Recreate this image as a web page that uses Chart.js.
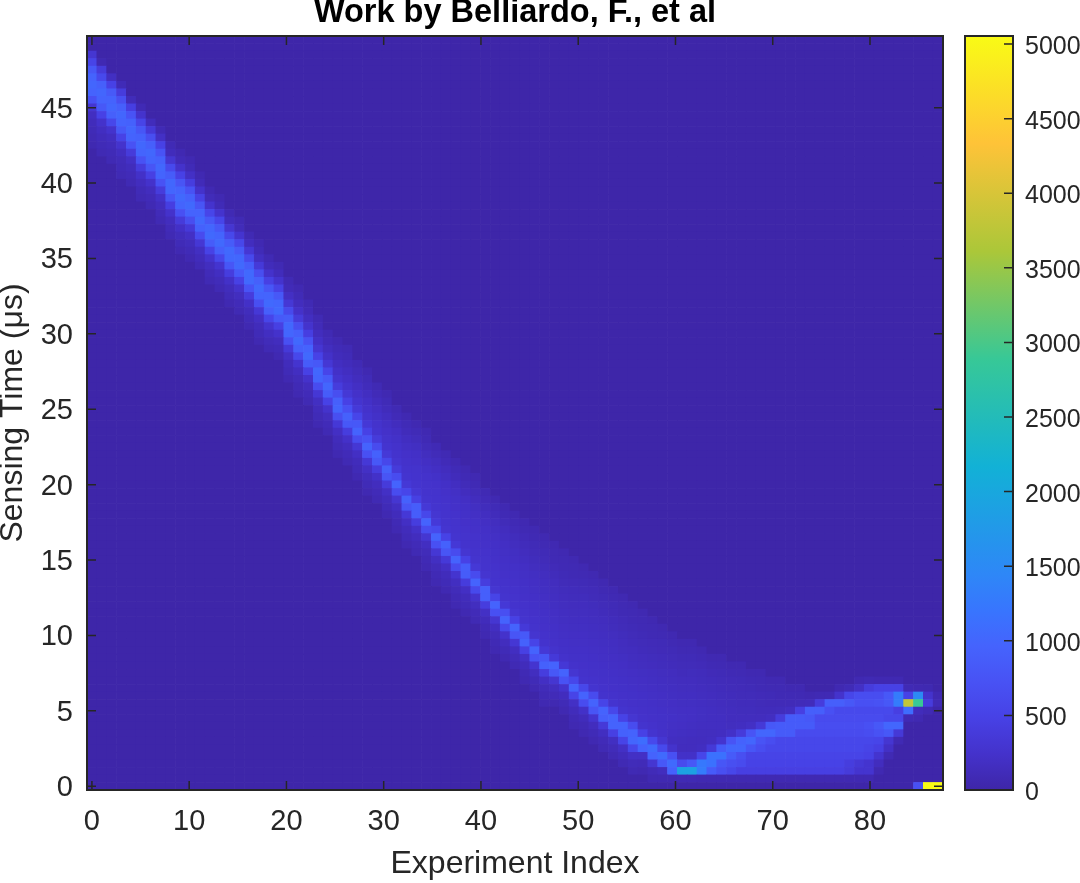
<!DOCTYPE html>
<html>
<head>
<meta charset="utf-8">
<script src="https://cdn.jsdelivr.net/npm/chart.js@4"></script>
<style>
    body { margin: 0; background: #fff; }
    canvas { position: absolute; left: 0; top: 0; }
</style>
</head>
<body>
<canvas id="heat" width="1080" height="883"></canvas>
<canvas id="bar" width="1080" height="883"></canvas>
<script>
const xTicks = [0, 10, 20, 30, 40, 50, 60, 70, 80];
const yTicks = [0, 5, 10, 15, 20, 25, 30, 35, 40, 45];
const barTicks = [0, 500, 1000, 1500, 2000, 2500, 3000, 3500, 4000, 4500, 5000];
const colorMax = 5054;
const background = 10;

/* first listed row of each experiment, rows count up from 0 in 0.5 us steps */
const topRows = [
    97, 96, 94, 93, 91, 90, 88, 87, 85, 84, 83, 81, 79, 78, 76, 75, 73, 72, 70, 69,
    67, 66, 64, 62, 60, 59, 58, 56, 55, 53, 52, 50, 49, 48, 47, 45, 44, 43, 42, 41,
    39, 38, 37, 36, 35, 34, 33, 32, 31, 30, 29, 28, 27, 26, 25, 24, 23, 22, 21, 20,
    19, 19, 18, 17, 17, 16, 16, 15, 15, 14, 14, 13, 13, 12, 12, 12, 13, 13, 14, 14,
    14, 14, 14, 13, 13, 13, 12
];

/* counts per experiment, read downward from its top row */
const columnValues = [
    [300,520,800,960,1000,960,700,300,170,130,100,80,60],
    [70,380,600,920,1000,960,800,480,240,170,130,100,80],
    [180,480,840,960,1000,920,560,260,170,130,100,80],
    [100,400,680,900,1000,960,800,500,260,170,120,100,80],
    [120,440,740,940,1000,960,720,380,200,140,110,80],
    [90,250,520,780,940,1020,980,720,400,220,150,100,80],
    [130,360,660,900,1020,980,760,460,240,150,110,80],
    [90,200,480,740,940,1020,980,720,400,220,150,110,80],
    [90,130,300,600,860,1020,1000,760,440,240,150,110,80],
    [70,110,240,480,760,960,1040,980,700,380,210,140,100,70],
    [70,100,200,420,720,940,1040,960,660,360,200,140,100,70],
    [70,110,240,480,760,960,1040,940,620,320,180,130,90],
    [70,120,260,540,800,1000,1040,860,500,260,160,110,80],
    [70,100,260,540,800,980,1040,900,560,280,170,120,80],
    [80,140,300,580,860,1040,1020,780,420,220,140,100,70],
    [80,120,280,560,840,1020,1040,820,480,250,160,110,80],
    [80,150,320,600,880,1040,1040,740,400,210,140,100,70],
    [70,100,180,360,660,920,1040,980,680,340,190,130,100,70],
    [80,130,240,460,780,980,1040,900,540,270,170,120,80],
    [80,130,260,500,800,1000,1040,820,460,240,150,100,70],
    [80,110,190,330,600,860,1020,1000,700,360,200,130,100,70],
    [70,100,150,230,380,660,920,1040,920,580,280,170,120,90,70],
    [80,110,170,260,440,720,960,1040,860,480,240,150,110,80],
    [80,110,150,210,310,500,800,1020,980,640,320,180,130,100,70],
    [80,110,160,220,320,540,840,1000,860,500,250,160,110,80],
    [70,100,130,170,220,280,400,660,920,980,680,340,190,130,100,70],
    [80,100,130,170,210,260,330,480,700,940,800,420,230,150,110,80],
    [90,120,150,190,230,280,360,540,800,960,640,320,190,130,100,70],
    [70,100,130,170,210,240,280,340,480,720,960,700,340,200,140,100,70],
    [80,110,150,190,220,250,280,380,620,940,800,420,220,150,110,80],
    [70,100,130,170,200,230,250,280,350,560,920,760,380,200,140,100,70],
    [80,110,150,190,220,240,260,290,380,640,960,640,300,180,130,90,70],
    [70,100,130,170,200,230,240,260,280,340,540,940,760,340,190,130,100,70],
    [70,100,140,180,210,230,250,260,280,320,460,880,880,420,220,150,110,80],
    [70,90,120,160,190,220,240,250,260,280,340,560,960,640,300,170,120,90,70],
    [90,120,160,190,220,240,250,260,270,300,360,600,960,700,320,180,120,90,70],
    [80,110,150,180,210,230,240,250,260,270,290,500,940,760,360,190,130,100,70],
    [70,100,130,170,200,220,230,240,250,260,280,340,620,960,620,280,170,120,90,70],
    [70,90,120,150,190,210,220,230,240,250,260,300,480,880,860,400,190,130,100,70],
    [70,90,120,150,180,200,220,230,240,240,250,270,340,620,960,600,260,160,110,80],
    [80,110,140,170,190,210,220,230,240,250,260,290,420,900,900,420,200,130,90,70],
    [70,100,130,160,180,200,210,220,230,240,250,260,300,520,960,700,300,170,120,90,70],
    [70,90,120,150,170,190,200,210,220,230,240,250,270,340,680,960,580,240,150,100,70],
    [70,90,110,140,160,180,190,210,220,230,240,250,260,300,480,960,760,320,170,120,80],
    [70,80,110,130,150,170,190,200,210,220,230,240,250,270,360,820,940,460,200,130,90,70],
    [70,80,100,120,140,160,180,190,200,210,220,230,240,250,290,520,960,720,280,160,100,70],
    [70,80,100,120,140,160,170,180,190,200,210,220,230,240,260,340,780,940,420,190,120,90,70],
    [70,80,90,110,130,150,160,170,180,190,200,210,220,230,250,360,960,800,300,160,110,70],
    [70,80,90,100,120,140,150,160,170,180,190,200,210,220,240,340,960,720,260,150,100,70],
    [70,80,90,110,130,140,150,160,170,180,190,200,210,220,240,300,560,960,520,200,130,90,70],
    [70,80,100,120,140,150,160,170,180,190,200,210,220,230,240,260,560,960,640,220,130,90,70],
    [70,90,110,120,140,150,160,170,180,190,200,210,220,230,240,280,620,960,760,280,150,100,70],
    [70,80,100,120,130,150,160,170,180,190,200,210,220,230,240,260,520,960,900,360,170,110,80],
    [70,80,100,110,130,140,160,170,180,190,200,210,220,230,240,280,560,960,960,460,180,120,80],
    [70,80,90,110,120,140,150,160,180,190,200,210,220,230,240,270,500,960,940,520,200,130,80],
    [70,80,90,100,120,130,150,160,170,190,200,210,220,230,240,300,640,960,1000,560,200,120,80],
    [70,80,90,100,120,130,150,160,180,190,200,210,220,230,240,270,480,1100,950,200,110,70],
    [70,80,90,110,120,140,150,170,180,190,200,210,220,230,240,280,600,1050,960,300,110,70],
    [70,80,100,110,130,140,160,170,180,190,200,210,220,220,230,300,600,1050,800,150,70],
    [70,80,100,120,130,150,160,170,180,190,200,210,200,190,170,250,700,1050,950,70],
    [70,80,100,120,130,150,160,170,180,190,200,190,180,160,150,220,620,1900,80],
    [70,80,100,120,140,150,160,170,180,190,190,180,170,150,150,220,800,1900,80],
    [70,90,110,130,140,150,160,170,180,180,170,160,150,170,550,1250,1300,70],
    [70,90,110,130,140,150,160,170,170,170,160,170,350,1150,1150,850,70],
    [70,80,100,120,130,140,150,160,170,170,170,280,850,1150,780,680,70],
    [70,90,110,120,130,140,150,150,160,220,750,1000,850,680,560,70],
    [70,80,100,110,120,130,140,150,170,380,950,1000,680,620,450,70],
    [70,90,100,120,130,140,150,200,750,1000,780,520,500,450,70],
    [70,80,90,110,120,130,150,350,1000,750,650,520,500,450,70],
    [70,80,100,110,130,170,800,1000,650,560,520,500,450,70],
    [70,80,90,110,140,400,850,850,560,560,520,500,450,70],
    [70,90,110,170,850,850,850,560,560,520,500,450,70],
    [70,80,120,450,850,850,620,560,560,520,500,450,70],
    [70,130,900,800,850,620,560,560,520,500,450,70],
    [80,400,900,620,650,620,560,560,520,500,450,70],
    [90,900,700,620,650,620,560,560,520,500,450,70],
    [70,250,900,600,620,650,620,560,560,520,500,450,70],
    [100,550,800,600,620,650,620,560,560,520,420,380,70],
    [70,200,650,700,600,620,650,620,560,560,520,330,280,70],
    [80,400,650,700,600,620,700,650,560,520,480,280,280,70],
    [70,480,650,720,600,620,800,720,540,450,280,150,70],
    [70,480,800,800,600,560,1000,800,300,200,80],
    [70,480,1300,1300,450,560,1000,350,80],
    [90,500,3800,1100,90],
    [70,1500,2900,130,70],
    [60,250,400,80],
    [70,90]
];

/* bright cells on the bottom row, last three experiments */
const floorValues = [700, 5050, 5050];

const columns = columnValues.length;
const rows = 100;
const rowStep = 0.5;
const columnStep = 87 / 86;

const counts = [];
for (let r = 0; r < rows; r++) counts.push(new Array(columns).fill(background));
columnValues.forEach((list, k) => {
    list.forEach((v, i) => { counts[topRows[k] - i][k] = v; });
});
floorValues.forEach((v, i) => { counts[0][columns - floorValues.length + i] = v; });

/* parula, position on the 0-1 range and rgb */
const parula = [
    [0, 62, 38, 168], [3 / 63, 68, 50, 203], [6 / 63, 71, 65, 229], [9 / 63, 72, 82, 244],
    [12 / 63, 69, 99, 253], [15 / 63, 56, 117, 254], [18 / 63, 46, 135, 247],
    [3 / 7, 18, 177, 214], [4 / 7, 55, 200, 151], [5 / 7, 171, 199, 57],
    [6 / 7, 254, 195, 56], [1, 249, 251, 21]
];

function colorFor(value) {
    const t = Math.min(value / colorMax, 1);
    let i = 0;
    while (i < parula.length - 2 && parula[i + 1][0] < t) i++;
    const a = parula[i], b = parula[i + 1];
    const f = (t - a[0]) / (b[0] - a[0]);
    const c = [1, 2, 3].map(n => Math.round(a[n] + (b[n] - a[n]) * f));
    return `rgb(${c[0]},${c[1]},${c[2]})`;
}

const ink = "#262626";
Chart.defaults.font.family = "'Liberation Sans', Helvetica, Arial, sans-serif";
Chart.defaults.font.size = 25;
Chart.defaults.color = ink;

/* MATLAB box: frame and inward ticks on top of the image */
function boxPlugin(bothSides) {
    return {
        id: "box",
        afterDatasetsDraw(chart) {
            const { ctx, chartArea: a, scales } = chart;
            const len = 9;
            ctx.save();
            ctx.strokeStyle = ink;
            ctx.lineWidth = 1.5;
            ctx.beginPath();
            scales.y.ticks.forEach(t => {
                const p = scales.y.getPixelForValue(t.value);
                ctx.moveTo(a.right, p); ctx.lineTo(a.right - len, p);
                if (bothSides) { ctx.moveTo(a.left, p); ctx.lineTo(a.left + len, p); }
            });
            if (bothSides) {
                scales.x.ticks.forEach(t => {
                    const p = scales.x.getPixelForValue(t.value);
                    ctx.moveTo(p, a.bottom); ctx.lineTo(p, a.bottom - len);
                    ctx.moveTo(p, a.top); ctx.lineTo(p, a.top + len);
                });
            }
            ctx.stroke();
            ctx.lineWidth = 2;
            ctx.strokeRect(a.left, a.top, a.right - a.left, a.bottom - a.top);
            ctx.restore();
        }
    };
}

const heatDatasets = counts.map((line, r) => ({
    data: line.map((v, k) => ({ x: k * columnStep, y: [r * rowStep - rowStep / 2, r * rowStep + rowStep / 2] })),
    backgroundColor: line.map(colorFor),
    borderWidth: 0,
    grouped: false,
    barPercentage: 1,
    categoryPercentage: 1
}));

new Chart(document.getElementById("heat"), {
    type: "bar",
    data: { datasets: heatDatasets },
    options: {
        responsive: false,
        animation: false,
        layout: { padding: { right: 137 } },
        plugins: {
            legend: { display: false },
            tooltip: { enabled: false },
            title: {
                display: true,
                text: "Work by Belliardo, F., et al",
                fullSize: false,
                color: "#000",
                font: { size: 32.5, weight: "bold", lineHeight: 1 },
                padding: { top: -3, bottom: 6.5 }
            }
        },
        scales: {
            x: {
                type: "linear",
                offset: false,
                min: -columnStep / 2,
                max: 87 + columnStep / 2,
                grid: { display: false },
                border: { display: false },
                afterBuildTicks: s => { s.ticks = xTicks.map(value => ({ value })); },
                afterFit: s => { s.height = 93; },
                ticks: { maxRotation: 0, autoSkip: false, padding: 7, font: { size: 29 } },
                title: {
                    display: true,
                    text: "Experiment Index",
                    font: { size: 32, lineHeight: 1 },
                    padding: { top: 0, bottom: 3 }
                }
            },
            y: {
                min: -rowStep / 2,
                max: rows * rowStep - rowStep / 2,
                grid: { display: false },
                border: { display: false },
                afterBuildTicks: s => { s.ticks = yTicks.map(value => ({ value })); },
                afterFit: s => { s.width = 87; },
                ticks: { autoSkip: false, padding: 6, labelOffset: 2, font: { size: 29 } },
                title: {
                    display: true,
                    text: "Sensing Time (\u03bcs)",
                    font: { size: 32, lineHeight: 1 },
                    padding: { top: -3, bottom: 0 }
                }
            }
        }
    },
    plugins: [boxPlugin(true)]
});

new Chart(document.getElementById("bar"), {
    type: "bar",
    data: {
        labels: ["counts"],
        datasets: [{
            data: [[0, colorMax]],
            borderWidth: 0,
            barPercentage: 1,
            categoryPercentage: 1,
            backgroundColor: c => {
                const a = c.chart.chartArea;
                if (!a) return "#fff";
                const g = c.chart.ctx.createLinearGradient(0, a.bottom, 0, a.top);
                parula.forEach(s => g.addColorStop(s[0], `rgb(${s[1]},${s[2]},${s[3]})`));
                return g;
            }
        }]
    },
    options: {
        responsive: false,
        animation: false,
        layout: { padding: { left: 965, top: 36, bottom: 93 } },
        plugins: { legend: { display: false }, tooltip: { enabled: false } },
        scales: {
            x: { display: false },
            y: {
                position: "right",
                min: 0,
                max: colorMax,
                grid: { display: false },
                border: { display: false },
                afterBuildTicks: s => { s.ticks = barTicks.map(value => ({ value })); },
                afterFit: s => { s.width = 67; },
                ticks: { autoSkip: false, padding: 4, labelOffset: 3, callback: v => String(v) }
            }
        }
    },
    plugins: [boxPlugin(false)]
});
</script>
</body>
</html>
